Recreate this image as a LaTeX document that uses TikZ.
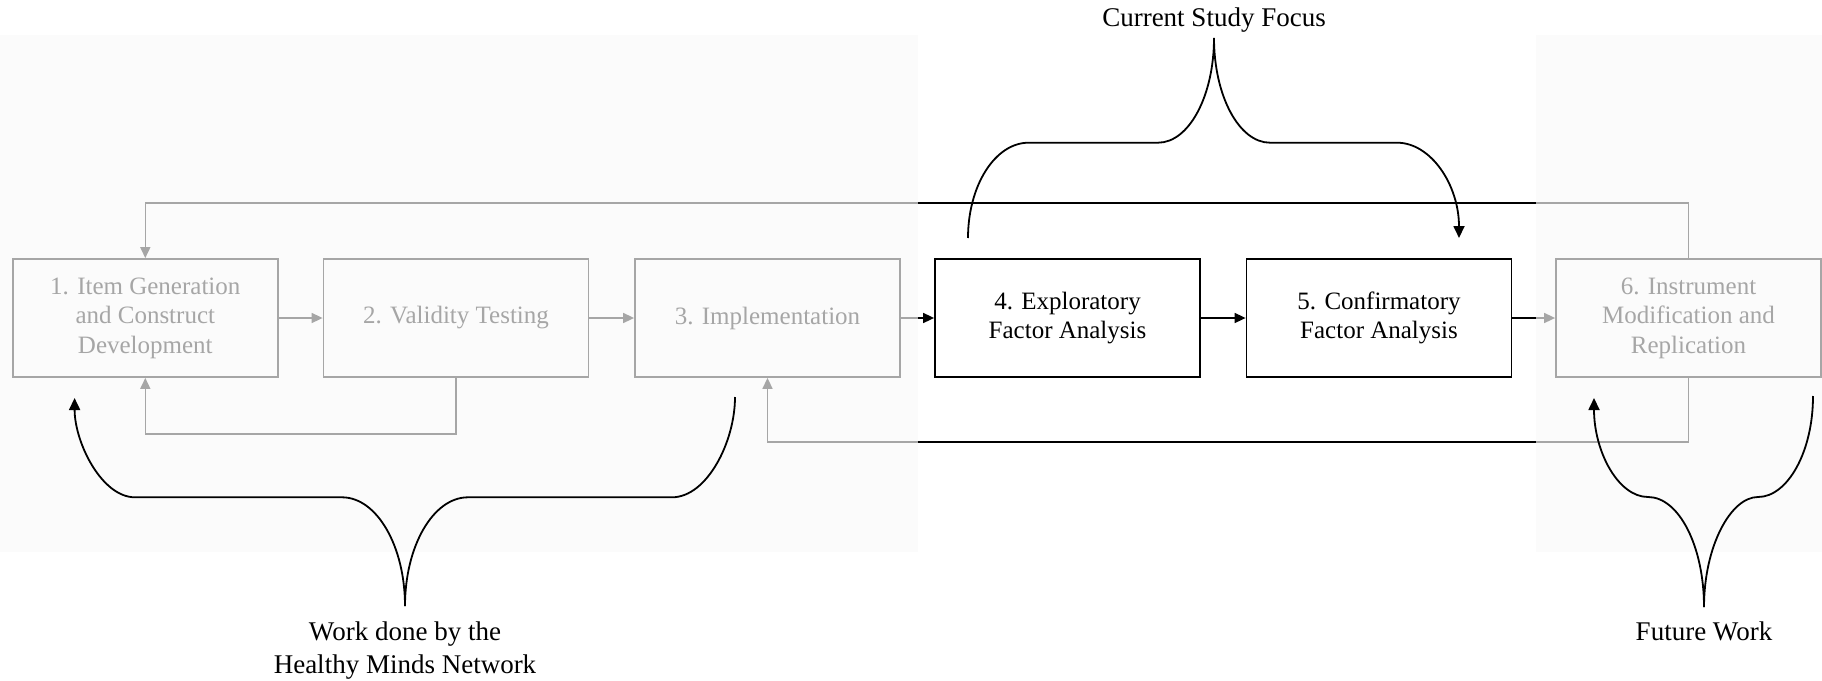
\documentclass[tikz,border=0pt]{standalone}
\usepackage{fontspec}
\setmainfont{Liberation Serif}
\usetikzlibrary{arrows.meta}
\definecolor{veilgray}{HTML}{F9F9F9}
\begin{document}
\begin{tikzpicture}[x=1pt,y=-1pt,
  stage/.style={draw=black, line width=1.8pt, fill=white,
    minimum width=265pt, minimum height=118pt, inner sep=0pt,
    align=center, font=\fontsize{25}{29.5}\selectfont},
  flow/.style={line width=1.6pt, -{Triangle[length=11pt,width=10pt]}},
  brace/.style={line width=1.8pt},
  bracetip/.style={-{Triangle[length=12pt,width=11pt]}},
  caption/.style={align=center, inner sep=0pt, font=\fontsize{27}{33}\selectfont},
  veil/.style={fill=veilgray, fill opacity=0.667, draw=none}
]
\useasboundingbox (0,0) rectangle (1822,680);

% process stages
\node[stage] (s1) at (145.3,318) {1. Item Generation\\and Construct\\Development};
\node[stage] (s2) at (456,318) {2. Validity Testing};
\node[stage] (s3) at (767.5,318) {3. Implementation};
\node[stage] (s4) at (1067.5,318) {4. Exploratory\\Factor Analysis};
\node[stage] (s5) at (1379,318) {5. Confirmatory\\Factor Analysis};
\node[stage] (s6) at (1688.5,318) {6. Instrument\\Modification and\\Replication};

% forward flow
\draw[flow] (s1) -- (s2);
\draw[flow] (s2) -- (s3);
\draw[flow] (s3) -- (s4);
\draw[flow] (s4) -- (s5);
\draw[flow] (s5) -- (s6);

% feedback loops
\coordinate (topy) at (0,203);
\coordinate (lowA) at (0,434);
\coordinate (lowB) at (0,442);
\draw[flow] (s6.north) -- (s6.north |- topy) -| (s1.north);
\draw[flow] (s2.south) -- (s2.south |- lowA) -| (s1.south);
\draw[flow] (s6.south) -- (s6.south |- lowB) -| (s3.south);

% faded phases (earlier and later work)
\fill[veil] (0,35) rectangle (918,552);
\fill[veil] (1536,35) rectangle (1822,552);

% current study focus
\node[caption] (focus) at (1214,20) {Current Study Focus};
\coordinate (fTip) at (1214,38);
\coordinate (fL) at (968,238);
\coordinate (fR) at (1459,238);
\draw[brace] (fTip) .. controls (1214,95.8) and (1189,142.7) .. (1158,142.7)
  -- (1028.6,142.7) .. controls (995.2,142.7) and (968,185.4) .. (fL);
\draw[brace,bracetip] (fTip) .. controls (1214,95.8) and (1239,142.7) .. (1270,142.7)
  -- (1397,142.7) .. controls (1431.2,142.7) and (1459,185.4) .. (fR);

% work done by the network
\node[caption] (hmn) at (405,651) {Work done by the\\Healthy Minds Network};
\coordinate (hTip) at (405,606);
\coordinate (hL) at (74.6,398);
\coordinate (hR) at (735,397);
\draw[brace,bracetip] (hTip) .. controls (405,546) and (376.8,497.3) .. (342,497.3)
  -- (135,497.3) .. controls (101.7,497.3) and (74.6,442.5) .. (hL);
\draw[brace] (hTip) .. controls (405,546) and (433.2,497.3) .. (468,497.3)
  -- (672,497.3) .. controls (706.8,497.3) and (735,442.1) .. (hR);

% future work
\node[caption] (future) at (1704,631) {Future Work};
\coordinate (wTip) at (1704,607);
\coordinate (wL) at (1594,398);
\coordinate (wR) at (1813,396);
\draw[brace,bracetip] (wTip) .. controls (1704,546.3) and (1678.9,497) .. (1648,497)
  .. controls (1618.2,497) and (1594,451.6) .. (wL);
\draw[brace] (wTip) .. controls (1704,546.3) and (1730.7,497) .. (1758,497)
  .. controls (1787.3,497) and (1813,452.2) .. (wR);
\end{tikzpicture}
\end{document}
